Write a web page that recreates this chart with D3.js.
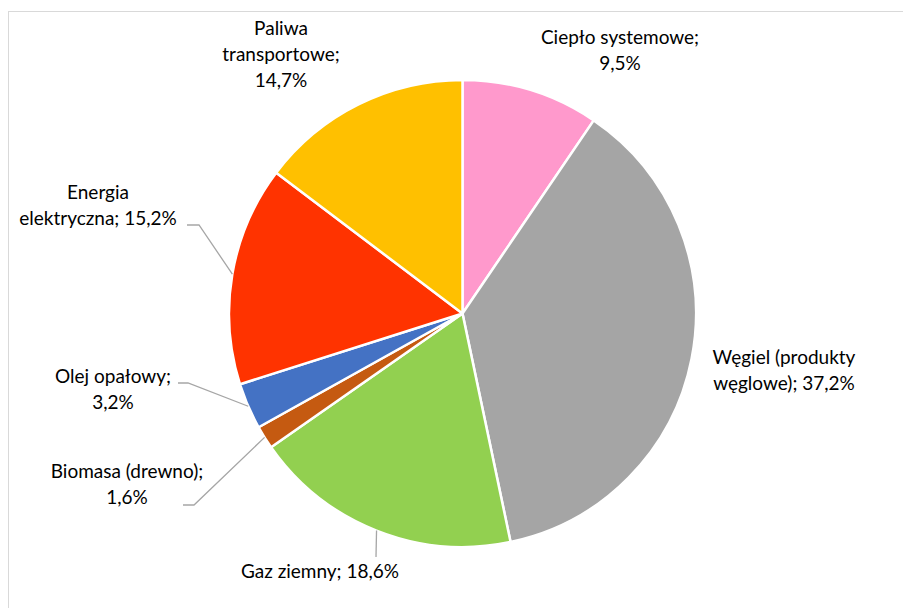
<!DOCTYPE html>
<html>
<head>
<meta charset="utf-8">
<script src="https://cdn.jsdelivr.net/npm/d3@7"></script>
<style>
  body { margin: 0; background: #fff; }
  svg { display: block; }
  text { font-family: Lato, "Open Sans", sans-serif; font-size: 19px; fill: #000; }
</style>
</head>
<body>
<div id="chart"></div>
<script>
// data (share in %)
const categories = ["Ciepło systemowe", "Węgiel (produkty węglowe)", "Gaz ziemny",
  "Biomasa (drewno)", "Olej opałowy", "Energia elektryczna", "Paliwa transportowe"];
const shares = [9.5, 37.2, 18.6, 1.6, 3.2, 15.2, 14.7];
const labelLines = [
  ["Ciepło systemowe;", "9,5%"],
  ["Węgiel (produkty", "węglowe); 37,2%"],
  ["Gaz ziemny; 18,6%"],
  ["Biomasa (drewno);", "1,6%"],
  ["Olej opałowy;", "3,2%"],
  ["Energia", "elektryczna; 15,2%"],
  ["Paliwa", "transportowe;", "14,7%"]
];
const colors = ["#FF99CC", "#A5A5A5", "#92D050", "#C55A11", "#4472C4", "#FF3300", "#FFC000"];

// label placement, relative to the pie centre (x of text centre, y of first baseline)
const labelPos = [[157.5, -269.5], [321.5, 50.5], [-142.5, 264.5], [-335.5, 164.5],
  [-349.5, 69.5], [-364.5, -114.5], [-181.5, -278.5]];
// leader lines: [elbow, end] relative to centre, null if none
const leaders = [null, null, [[-86.5, 243.5], [-86.5, 243.5]], [[-268.5, 191.5], [-279.5, 191.5]],
  [[-274.5, 69.5], [-284.5, 69.5]], [[-263.5, -88.5], [-275.5, -88.5]], null];

const width = 903, height = 608;
const cx = 462.5, cy = 313.5, radius = 233.5;

const svg = d3.select('#chart').append('svg')
  .attr('width', width)
  .attr('height', height);

// chart area border
svg.append('rect')
  .attr('x', 8.5).attr('y', 11.5)
  .attr('width', 1000).attr('height', 1000)
  .attr('fill', 'none')
  .attr('stroke', '#D9D9D9')
  .attr('stroke-width', 1);

const g = svg.append('g').attr('transform', `translate(${cx},${cy})`);

const pie = d3.pie().sort(null).value(d => d);
const arcs = pie(shares);
const arc = d3.arc().innerRadius(0).outerRadius(radius);

g.selectAll('path.slice')
  .data(arcs)
  .join('path')
  .attr('class', 'slice')
  .attr('d', arc)
  .attr('fill', (d, i) => colors[i])
  .attr('stroke', '#fff')
  .attr('stroke-width', 2.5)
  .attr('stroke-linejoin', 'round');

// leader lines from the edge of the slice
arcs.forEach((d, i) => {
  if (!leaders[i]) return;
  const a = (d.startAngle + d.endAngle) / 2;
  const p0 = [radius * Math.sin(a), -radius * Math.cos(a)];
  const pts = [p0, leaders[i][0], leaders[i][1]];
  g.append('path')
    .attr('d', d3.line()(pts))
    .attr('fill', 'none')
    .attr('stroke', '#A6A6A6')
    .attr('stroke-width', 1.3);
});

// data labels
const lineH = 25.8;
arcs.forEach((d, i) => {
  const t = g.append('text')
    .attr('text-anchor', 'middle')
    .attr('x', labelPos[i][0])
    .attr('y', labelPos[i][1]);
  labelLines[i].forEach((s, j) => {
    t.append('tspan')
      .attr('x', labelPos[i][0])
      .attr('dy', j === 0 ? 0 : lineH)
      .text(s);
  });
});
</script>
</body>
</html>
